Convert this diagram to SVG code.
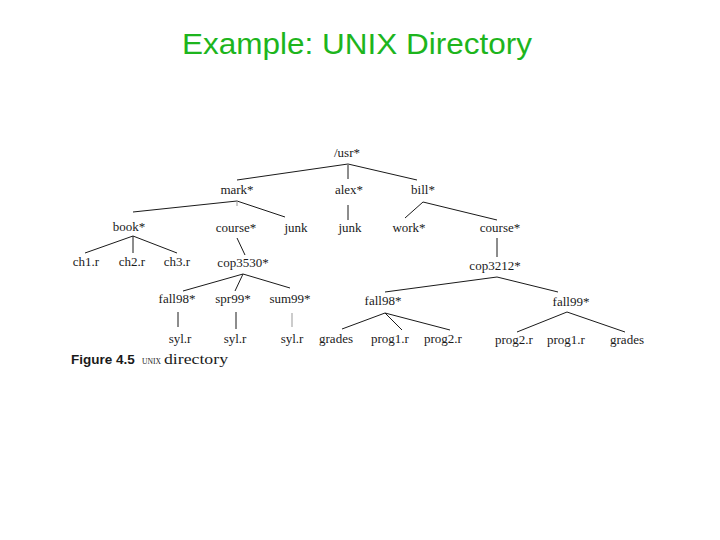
<svg xmlns="http://www.w3.org/2000/svg" width="720" height="540" viewBox="0 0 720 540">
<style>
.t{font-family:"Liberation Serif","Times New Roman",serif;font-size:13px;fill:#1a1a1a;text-anchor:middle}
.c{stroke:#1a1a1a;stroke-width:1;fill:none}
.f{stroke:#999;stroke-width:1;fill:none}
.title{font-family:"Liberation Sans",Arial,sans-serif;font-size:30px;fill:#1db51d;text-anchor:middle}
</style>
<rect width="720" height="540" fill="#fff"/>
<text class="title" x="357" y="54" textLength="350" lengthAdjust="spacingAndGlyphs">Example: UNIX Directory</text>
<g id="connectors">
<path class="c" d="M348,164 L237,180 M348,165 L348,179 M348,164 L417,180"/>
<path class="c" d="M237,201 L133,212 M237,201 L285,217"/>
<path class="f" d="M237,201 L237,206"/>
<path class="c" d="M133,236 L85,253 M133,236 L133,253 M133,236 L177,253"/>
<path class="c" d="M237,238 L245,255"/>
<path class="c" d="M348,205 L348,220"/>
<path class="c" d="M423,202 L405,218 M423,202 L497,220"/>
<path class="c" d="M497,238 L497,257"/>
<path class="c" d="M243,274 L183,291 M243,274 L235,291 M243,274 L290,288"/>
<path class="c" d="M178,312 L178,327 M236,312 L236,329"/>
<path class="f" d="M292,313 L292,327"/>
<path class="c" d="M497,277 L385,292 M497,277 L558,292"/>
<path class="c" d="M385,313 L342,329 M385,313 L402,330 M385,313 L450,330"/>
<path class="c" d="M567,312 L517,332 M567,312 L625,332"/>
</g>
<g id="n-usr"><text class="t" x="347" y="157">/usr*</text></g>
<g id="n-mark"><text class="t" x="237" y="194">mark*</text></g>
<g id="n-alex"><text class="t" x="349" y="194">alex*</text></g>
<g id="n-bill"><text class="t" x="423" y="194">bill*</text></g>
<g id="n-book"><text class="t" x="129" y="231">book*</text></g>
<g id="n-course1"><text class="t" x="236" y="232">course*</text></g>
<g id="n-junk1"><text class="t" x="296" y="232">junk</text></g>
<g id="n-junk2"><text class="t" x="350" y="232">junk</text></g>
<g id="n-work"><text class="t" x="409" y="232">work*</text></g>
<g id="n-course2"><text class="t" x="500" y="232">course*</text></g>
<g id="n-ch1"><text class="t" x="86" y="266">ch1.r</text></g>
<g id="n-ch2"><text class="t" x="132" y="266">ch2.r</text></g>
<g id="n-ch3"><text class="t" x="177" y="266">ch3.r</text></g>
<g id="n-cop3530"><text class="t" x="243" y="267">cop3530*</text></g>
<g id="n-cop3212"><text class="t" x="495" y="270">cop3212*</text></g>
<g id="n-fall98a"><text class="t" x="177" y="303">fall98*</text></g>
<g id="n-spr99"><text class="t" x="233" y="303">spr99*</text></g>
<g id="n-sum99"><text class="t" x="290" y="303">sum99*</text></g>
<g id="n-fall98b"><text class="t" x="383" y="305">fall98*</text></g>
<g id="n-fall99"><text class="t" x="571" y="306">fall99*</text></g>
<g id="n-syl1"><text class="t" x="180" y="343">syl.r</text></g>
<g id="n-syl2"><text class="t" x="235" y="343">syl.r</text></g>
<g id="n-syl3"><text class="t" x="292" y="343">syl.r</text></g>
<g id="n-grades1"><text class="t" x="336" y="343">grades</text></g>
<g id="n-prog1a"><text class="t" x="390" y="343">prog1.r</text></g>
<g id="n-prog2a"><text class="t" x="443" y="343">prog2.r</text></g>
<g id="n-prog2b"><text class="t" x="514" y="344">prog2.r</text></g>
<g id="n-prog1b"><text class="t" x="566" y="344">prog1.r</text></g>
<g id="n-grades2"><text class="t" x="627" y="344">grades</text></g>
<g id="caption">
<text x="71" y="364" style="font-family:'Liberation Sans',Arial,sans-serif;font-size:13.5px;font-weight:bold;fill:#1a1a1a">Figure 4.5</text>
<text x="142" y="364" style="font-family:'Liberation Serif','Times New Roman',serif;font-size:15px;fill:#1a1a1a"><tspan style="font-size:9px" textLength="19" lengthAdjust="spacingAndGlyphs">UNIX</tspan><tspan dx="3" textLength="64" lengthAdjust="spacingAndGlyphs">directory</tspan></text>
</g>
</svg>
